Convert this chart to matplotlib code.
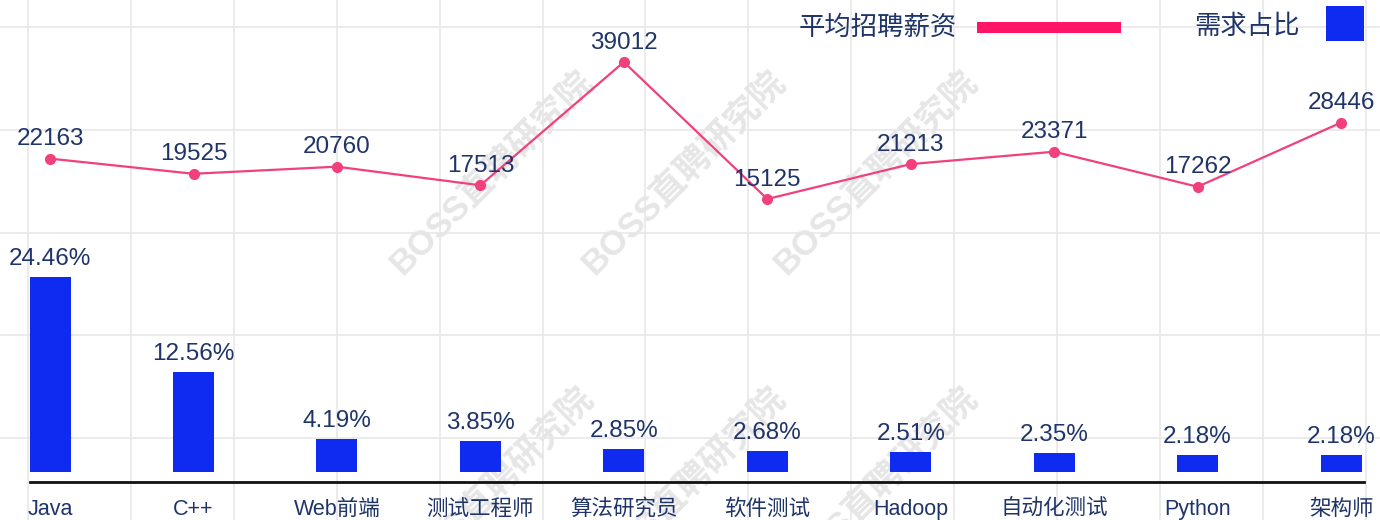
import numpy as np
import matplotlib
matplotlib.use("Agg")
import matplotlib.pyplot as plt
from matplotlib.patches import Rectangle

plt.rcParams['font.family'] = ['Liberation Sans', 'Noto Sans CJK SC', 'DejaVu Sans']

# data
jobs = ["Java", "C++", "Web前端", "测试工程师", "算法研究员", "软件测试",
        "Hadoop", "自动化测试", "Python", "架构师"]
share = [24.46, 12.56, 4.19, 3.85, 2.85, 2.68, 2.51, 2.35, 2.18, 2.18]
salary = [22163, 19525, 20760, 17513, 39012, 15125, 21213, 23371, 17262, 28446]

navy = "#1f3468"
pink = "#f2407a"
blue = "#0f2bef"

fig = plt.figure(figsize=(13.8, 5.2), dpi=100)

# background grid + watermark, in pixel units
bg = fig.add_axes([0, 0, 1, 1])
bg.set_xlim(0, 1380)
bg.set_ylim(520, 0)
bg.axis("off")
bg.vlines(np.arange(28, 1380, 102.9), 0, 520, color="#e8e8e8", lw=1.2, zorder=0)
bg.hlines(np.arange(27, 520, 102.8), 0, 1380, color="#e8e8e8", lw=1.2, zorder=0)
for cx in (492, 684, 876):
    for cy in (172, 488):
        bg.text(cx, cy, "BOSS直聘研究院", rotation=45, color="#e6e6e6",
                fontsize=25, fontweight="bold", ha="center", va="center",
                zorder=0.5, clip_on=True)

# legend drawn by hand
bg.text(957, 28, "平均招聘薪资", ha="right", va="center", fontsize=19, color=navy)
bg.add_patch(Rectangle((977, 22), 144, 11, color="#ff1467", lw=0))
bg.text(1300, 27, "需求占比", ha="right", va="center", fontsize=19, color=navy)
bg.add_patch(Rectangle((1326, 6), 38, 35, color=blue, lw=0))

x = np.arange(len(jobs))

ax = fig.add_axes([30 / 1380, 38 / 520, 1334 / 1380, 452 / 520])
ax.patch.set_alpha(0)
ax.bar(x, share, width=0.286, color=blue, zorder=2)
ax.set_xlim(-0.14, 9.16)
ax.set_ylim(-1.25, 55.46)
for s in ["top", "left", "right"]:
    ax.spines[s].set_visible(False)
ax.spines["bottom"].set_linewidth(2)
ax.spines["bottom"].set_color("#111111")
ax.set_yticks([])
ax.set_xticks(x, jobs)
ax.tick_params(axis="x", length=0, pad=12, labelsize=15.5, labelcolor=navy)
for i, v in enumerate(share):
    ax.annotate(f"{v:.2f}%", (i, v), xytext=(0, 5), textcoords="offset points",
                ha="center", va="bottom", fontsize=17.5, color=navy)

ax2 = ax.twinx()
ax2.plot(x, salary, color=pink, lw=1.6, marker="o", ms=7, zorder=3)
ax2.set_ylim(-34221, 44593)
ax2.set_yticks([])
for s in ax2.spines.values():
    s.set_visible(False)
for i, v in enumerate(salary):
    ax2.annotate(str(v), (i, v), xytext=(0, 6), textcoords="offset points",
                 ha="center", va="bottom", fontsize=17.5, color=navy)

fig.savefig("out.png", dpi=100)
